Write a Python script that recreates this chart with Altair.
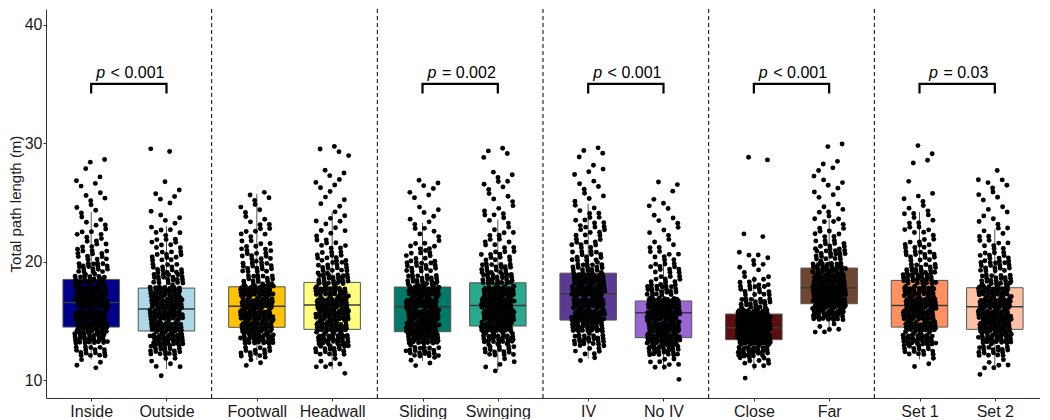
import altair as alt
import pandas as pd

# ---------------- data ----------------
groups = ["Inside", "Outside", "Footwall", "Headwall", "Sliding", "Swinging",
          "IV", "No IV", "Close", "Far", "Set 1", "Set 2"]
colors = ["#00008B", "#ADD8E6", "#FFC300", "#FFFF80", "#007A68", "#2AA98E",
          "#5B3A94", "#9966D6", "#5A0E0E", "#6E4630", "#FF9160", "#FFC1A3"]

whisker_lo = [11.77, 10.93, 11.71, 10.93, 11.63, 10.87, 11.85, 10.87, 10.87, 14.16, 11.77, 10.87]
q1         = [14.49, 14.16, 14.47, 14.30, 14.10, 14.58, 15.08, 13.60, 13.43, 16.46, 14.49, 14.30]
median     = [16.57, 16.01, 16.24, 16.35, 16.21, 16.32, 17.30, 15.70, 14.44, 17.81, 16.32, 16.21]
q3         = [18.51, 17.78, 17.89, 18.26, 17.87, 18.23, 19.04, 16.69, 15.59, 19.47, 18.43, 17.81]
whisker_hi = [24.21, 23.00, 25.73, 24.21, 23.30, 23.57, 24.90, 20.53, 18.80, 23.57, 24.20, 22.72]

# estimated number of points per 1 m bin, bins starting at 10, 11, ..., 29
bin_start = 10
counts = [
    [0, 4, 16, 30, 38, 38, 38, 32, 26, 18, 12, 8, 6, 5, 4, 4, 3, 2, 2, 0],   # Inside
    [1, 6, 20, 34, 40, 42, 40, 34, 20, 14, 12, 9, 6, 4, 2, 3, 2, 0, 0, 2],   # Outside
    [0, 4, 14, 32, 40, 44, 44, 40, 18, 16, 12, 8, 7, 5, 4, 4, 0, 0, 0, 0],   # Footwall
    [1, 6, 18, 32, 36, 38, 40, 34, 24, 16, 12, 8, 5, 5, 3, 3, 4, 3, 1, 3],   # Headwall
    [0, 4, 20, 38, 40, 42, 44, 38, 22, 16, 10, 7, 5, 4, 3, 3, 4, 0, 0, 0],   # Sliding
    [1, 4, 16, 30, 42, 44, 44, 38, 26, 18, 12, 8, 6, 5, 4, 4, 5, 3, 1, 3],   # Swinging
    [0, 2, 8, 22, 34, 36, 38, 40, 36, 20, 14, 10, 10, 7, 5, 4, 4, 3, 2, 3],  # IV
    [1, 8, 26, 46, 44, 52, 52, 20, 12, 12, 8, 5, 4, 4, 3, 2, 2, 0, 0, 0],    # No IV
    [1, 10, 30, 70, 80, 50, 20, 14, 8, 5, 5, 0, 2, 0, 0, 0, 0, 0, 2, 0],     # Close
    [0, 0, 0, 0, 6, 34, 60, 62, 48, 28, 18, 12, 8, 6, 5, 3, 4, 3, 2, 2],     # Far
    [0, 3, 16, 32, 38, 40, 40, 34, 26, 18, 14, 10, 7, 5, 5, 4, 1, 0, 2, 2],  # Set 1
    [1, 6, 18, 32, 40, 44, 44, 36, 22, 16, 12, 8, 6, 4, 3, 4, 5, 1, 0, 0],   # Set 2
]

bracket_left = ["Inside", "Sliding", "IV", "Close", "Set 1"]
bracket_right = ["Outside", "Swinging", "No IV", "Far", "Set 2"]
bracket_sign = ["<", "=", "<", "<", "="]
bracket_value = ["0.001", "0.002", "0.001", "0.001", "0.03"]
bracket_level = 35.0
bracket_drop = 34.2
y_ticks = [10, 20, 30, 40]

# ---------------- layout ----------------
W, H = 994, 389
XDOM = [0.4, 13.6]
YDOM = [8.507, 41.325]
ppu = W / (XDOM[1] - XDOM[0])
FONT = "Liberation Sans"

pos = [round(1 + i + 0.2 * (i // 2), 1) for i in range(len(groups))]
posmap = dict(zip(groups, pos))
half_box = 0.375

box_df = pd.DataFrame({
    "group": groups, "pos": pos,
    "x0": [p - half_box for p in pos], "x1": [p + half_box for p in pos],
    "lo": whisker_lo, "q1": q1, "med": median, "q3": q3, "hi": whisker_hi,
})

rows = []
for gi, g in enumerate(groups):
    idx = 0
    for b, n in enumerate(counts[gi]):
        for k in range(n):
            fy = (0.5 + (idx + 1) * 0.7548776662 + gi * 0.113) % 1.0
            fx = (0.5 + (idx + 1) * 0.5698402910 + gi * 0.271) % 1.0
            rows.append({"group": g,
                         "x": posmap[g] + 0.22 * (2 * fx - 1),
                         "y": bin_start + b + 0.04 + 0.92 * fy})
            idx += 1
pts_df = pd.DataFrame(rows)

sep_df = pd.DataFrame({"x": [(pos[2 * k + 1] + pos[2 * k + 2]) / 2 for k in range(5)]})

br_rows, p_rows, r_rows = [], [], []
cw = {"<": 9.34, "=": 9.34, " ": 4.45, ".": 4.45}
for i, (a, b) in enumerate(zip(bracket_left, bracket_right)):
    xa, xb = posmap[a], posmap[b]
    for k, (xx, yy) in enumerate([(xa, bracket_drop), (xa, bracket_level),
                                   (xb, bracket_level), (xb, bracket_drop)]):
        br_rows.append({"id": i, "k": k, "x": xx, "y": yy})
    rest = f"{bracket_sign[i]} {bracket_value[i]}"
    rest_w = sum(cw.get(c, 8.9) for c in rest)
    p_w, gap = 8.9, 5.5
    total = p_w + gap + rest_w
    center = (xa + xb) / 2
    left_px = 1.5 - total / 2
    rest_left = left_px + p_w + gap
    p_rows.append({"x": center + (rest_left - gap) / ppu, "y": bracket_level + 0.49, "t": "p"})
    r_rows.append({"x": center + rest_left / ppu, "y": bracket_level + 0.49, "t": rest})
br_df = pd.DataFrame(br_rows)
p_df = pd.DataFrame(p_rows)
r_df = pd.DataFrame(r_rows)

label_expr = ""
for p, g in zip(pos, groups):
    label_expr += f"datum.value == {p} ? '{g}' : "
label_expr += "''"

xs = alt.Scale(domain=XDOM, nice=False, zero=False)
ys = alt.Scale(domain=YDOM, nice=False, zero=False)
xaxis = alt.Axis(values=pos, labelExpr=label_expr, title=None, grid=False,
                 labelFontSize=16, tickSize=3, labelPadding=2, labelColor="#1a1a1a",
                 domainColor="#333333", tickColor="#333333", labelFont=FONT)
yaxis = alt.Axis(values=y_ticks, title="Total path length (m)", grid=False,
                 labelFontSize=16, tickSize=3, labelPadding=1, titlePadding=1,
                 titleFontSize=15, titleFontWeight="normal", titleColor="#1a1a1a",
                 labelColor="#1a1a1a", domainColor="#333333", tickColor="#333333",
                 labelFont=FONT, titleFont=FONT)

base_box = alt.Chart(box_df)
whisk_lo = base_box.mark_rule(color="#555555", strokeWidth=1).encode(
    x=alt.X("pos:Q", scale=xs, axis=xaxis), y=alt.Y("lo:Q", scale=ys, axis=yaxis), y2="q1:Q")
whisk_hi = base_box.mark_rule(color="#555555", strokeWidth=1).encode(
    x=alt.X("pos:Q", scale=xs), y=alt.Y("q3:Q", scale=ys), y2="hi:Q")
boxes = base_box.mark_rect(stroke="#555555", strokeWidth=1).encode(
    x=alt.X("x0:Q", scale=xs), x2="x1:Q",
    y=alt.Y("q1:Q", scale=ys), y2="q3:Q",
    color=alt.Color("group:N", scale=alt.Scale(domain=groups, range=colors), legend=None))
meds = base_box.mark_rule(color="#3a3a3a", strokeWidth=1.5).encode(
    x=alt.X("x0:Q", scale=xs), x2="x1:Q", y=alt.Y("med:Q", scale=ys))

points = alt.Chart(pts_df).mark_circle(size=24, color="black", opacity=1).encode(
    x=alt.X("x:Q", scale=xs), y=alt.Y("y:Q", scale=ys))

seps = alt.Chart(sep_df).mark_rule(color="black", strokeWidth=1, strokeDash=[4, 3]).encode(
    x=alt.X("x:Q", scale=xs))

brackets = alt.Chart(br_df).mark_line(color="black", strokeWidth=2.2, strokeJoin="miter").encode(
    x=alt.X("x:Q", scale=xs), y=alt.Y("y:Q", scale=ys), detail="id:N", order="k:Q")

ptext = alt.Chart(p_df).mark_text(font=FONT, fontSize=16, fontStyle="italic", align="right",
                                  baseline="alphabetic", color="black").encode(
    x=alt.X("x:Q", scale=xs), y=alt.Y("y:Q", scale=ys), text="t:N")
rtext = alt.Chart(r_df).mark_text(font=FONT, fontSize=16, align="left",
                                  baseline="alphabetic", color="black").encode(
    x=alt.X("x:Q", scale=xs), y=alt.Y("y:Q", scale=ys), text="t:N")

chart = alt.layer(whisk_lo, whisk_hi, boxes, meds, points, seps, brackets, ptext, rtext).properties(
    width=W, height=H, padding=0, background="white"
).configure(font=FONT).configure_view(strokeWidth=0, stroke="transparent")

chart.save("out.html", embed_options={"renderer": "svg", "actions": False})
